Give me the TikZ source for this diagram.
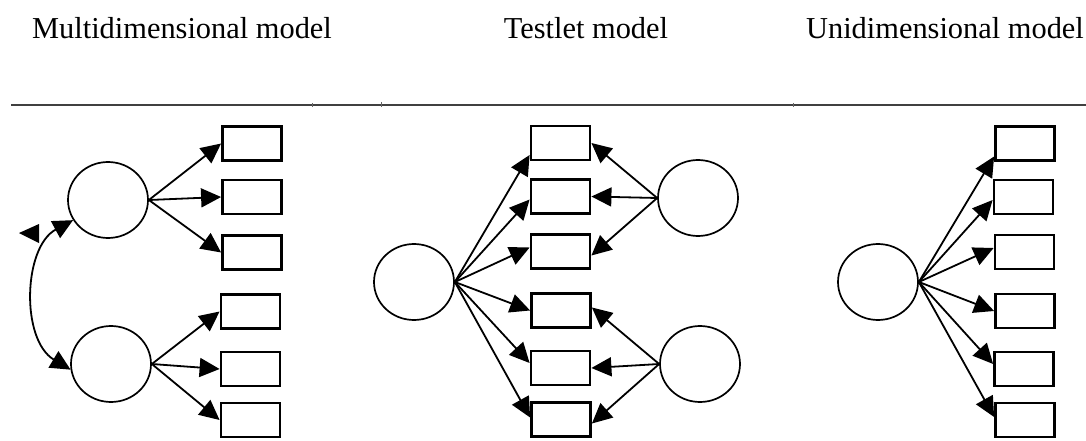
\documentclass[tikz,border=0pt]{standalone}
\usepackage{fontspec}
\setmainfont{Liberation Serif}
\usetikzlibrary{arrows.meta,shapes.geometric}
\begin{document}
\begin{tikzpicture}[x=1pt,y=-1pt,
  obs/.style={draw,rectangle,line width=2.8pt,minimum width=59pt,minimum height=34pt,inner sep=0pt},
  lat/.style={draw,ellipse,line width=1.7pt,minimum width=80pt,minimum height=76pt,inner sep=0pt},
  load/.style={line width=1.8pt,-{Triangle[length=20pt,width=19pt]}},
  title/.style={anchor=base,font=\fontsize{30.4}{34}\selectfont,inner sep=0pt}]
\useasboundingbox (0,0) rectangle (1086,441);
% titles
\node[title] (T1) at (182,39) {Multidimensional model};
\node[title] (T2) at (586,39) {Testlet model};
\node[title] (T3) at (945,39) {Unidimensional model};
% rule
\draw[line width=1.4pt,black!75] (11,105) -- (1086,105);
\draw[line width=0.8pt,black!60] (312,103) -- (312,107) (381,102) -- (381,107) (793,103) -- (793,107);
% ---------- multidimensional ----------
\node[lat] (mc1) at (108,200) {};
\node[lat] (mc2) at (111,364) {};
\node[obs] (m1) at (252,143.5) {};
\node[obs] (m2) at (252,197) {};
\node[obs] (m3) at (252,252.5) {};
\node[obs] (m4) at (250.5,311.5) {};
\node[obs] (m5) at (250.5,369) {};
\node[obs] (m6) at (250.5,420) {};
\foreach \b in {m1,m2,m3} \draw[load] (mc1.east) -- (\b.west);
\foreach \b in {m4,m5,m6} \draw[load] (mc2.east) -- (\b.west);
\draw[line width=1.8pt,{Triangle[length=20pt,width=19pt]}-{Triangle[length=20pt,width=19pt]}]
  (mc1.210) .. controls +(-50,27) and +(-50,-30) .. (mc2.188);
\fill (19,233) -- (39,224) -- (39,243) -- cycle;
% ---------- testlet ----------
\node[lat] (tg) at (414,282) {};
\node[lat] (ts1) at (698,198) {};
\node[lat] (ts2) at (700,364) {};
\node[obs] (t1) at (560.5,143) {};
\node[obs] (t2) at (560.5,196.5) {};
\node[obs] (t3) at (560.5,251.5) {};
\node[obs] (t4) at (561,310.5) {};
\node[obs] (t5) at (560.5,368) {};
\node[obs] (t6) at (561,419.5) {};
\draw[load] (tg.east) -- ([yshift=-12pt]t1.west);
\draw[load] (tg.east) -- ([yshift=-3pt]t2.west);
\draw[load] (tg.east) -- ([yshift=4pt]t3.west);
\draw[load] (tg.east) -- (t4.west);
\draw[load] (tg.east) -- ([yshift=5pt]t5.west);
\draw[load] (tg.east) -- ([yshift=2pt]t6.west);
\draw[load] (ts1.west) -- (t1.east);
\draw[load] (ts1.west) -- (t2.east);
\draw[load] (ts1.west) -- ([yshift=-4pt]t3.east);
\draw[load] (ts2.west) -- ([yshift=3pt]t4.east);
\draw[load] (ts2.west) -- (t5.east);
\draw[load] (ts2.west) -- ([yshift=-4pt]t6.east);
% ---------- unidimensional ----------
\node[lat] (u) at (878,282) {};
\node[obs] (u1) at (1025,143.5) {};
\node[obs] (u2) at (1023.5,197) {};
\node[obs] (u3) at (1024.5,252) {};
\node[obs] (u4) at (1025,311) {};
\node[obs] (u5) at (1024,369) {};
\node[obs] (u6) at (1025,420) {};
\draw[load] (u.east) -- ([yshift=-13pt]u1.west);
\draw[load] (u.east) -- ([yshift=-3pt]u2.west);
\draw[load] (u.east) -- ([yshift=4pt]u3.west);
\draw[load] (u.east) -- (u4.west);
\draw[load] (u.east) -- ([yshift=5pt]u5.west);
\draw[load] (u.east) -- ([yshift=3pt]u6.west);
\end{tikzpicture}
\end{document}
